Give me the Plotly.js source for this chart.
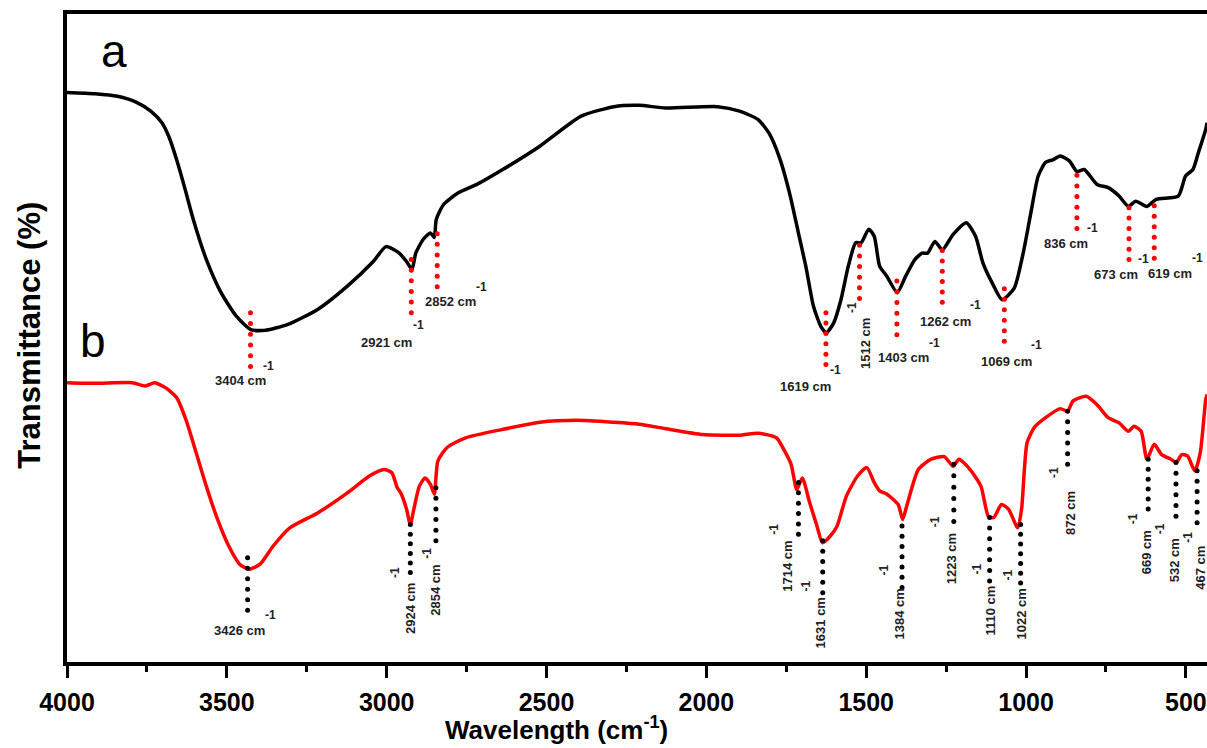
<!DOCTYPE html>
<html>
<head>
<meta charset="utf-8">
<script src="https://cdn.plot.ly/plotly-3.0.1.min.js"></script>
<style>html,body{margin:0;padding:0;background:#fff;}#chart{width:1207px;height:748px;}</style>
</head>
<body>
<div id="chart"></div>
<script>
// ---- Spectrum a (black) ----
const waveA = [4000, 3912, 3842, 3784, 3738, 3703, 3680, 3657, 3633, 3605, 3564, 3518, 3471, 3425, 3378, 3309, 3216, 3123, 3042, 3002, 2961, 2938, 2921, 2909, 2886, 2863, 2851, 2845, 2822, 2776, 2718, 2637, 2521, 2393, 2289, 2210,
  2127, 1965, 1896, 1838, 1804, 1769, 1740, 1712, 1689, 1665, 1642, 1625, 1602, 1579, 1556, 1533, 1516, 1492, 1475, 1458, 1435, 1403, 1377, 1348, 1325, 1308, 1285, 1262, 1228, 1187, 1158, 1135, 1106, 1075, 1037, 1009, 985, 962, 939, 916, 893, 864, 841, 818, 778, 743, 709, 680, 657, 622, 593, 524, 501, 478, 461, 438, 434];
const transA = [87.9, 87.7, 87.3, 86.4, 85.0, 83.2, 80.9, 77.5, 73.4, 68.3, 62.1, 57.0, 53.4, 51.3, 51.2, 52.1, 54.4, 58.0, 61.8, 64.1, 63.1, 61.8, 60.6, 63.1, 65.2, 66.2, 65.5, 68.3, 70.6, 72.4, 73.7, 76.0, 79.6, 84.2, 85.7, 85.9,
  85.5, 85.7, 85.0, 83.7, 81.6, 77.5, 72.4, 66.2, 61.1, 54.9, 51.8, 50.8, 52.3, 55.9, 61.1, 64.7, 64.7, 66.8, 65.7, 61.1, 59.5, 57.0, 59.5, 62.1, 63.1, 63.1, 64.9, 63.6, 66.0, 67.8, 65.7, 61.6, 58.5, 55.9, 57.7, 63.1, 69.3, 75.0, 77.1, 77.5, 78.1, 77.3, 75.7, 76.0, 73.7, 73.2, 71.9, 70.3, 71.1, 70.3, 71.4, 71.9, 75.0, 76.0, 78.6, 82.2, 83.2];

// ---- Spectrum b (red) ----
const waveB = [4000, 3912, 3796, 3755, 3726, 3691, 3657, 3628, 3599, 3564, 3529, 3494, 3460, 3431, 3396, 3355, 3303, 3216, 3123, 3054, 3008, 2984, 2967, 2956, 2938, 2926, 2915, 2898, 2880, 2863, 2851, 2840, 2811, 2753, 2637, 2521, 2405, 2289, 2210,
  2127, 2011, 1896, 1838, 1781, 1758, 1735, 1717, 1700, 1677, 1654, 1637, 1613, 1591, 1562, 1527, 1498, 1475, 1458, 1435, 1400, 1386, 1372, 1337, 1297, 1256, 1228, 1210, 1175, 1141, 1118, 1101, 1077, 1055, 1026, 1014, 997, 974, 939, 893, 870, 853, 812, 778, 743, 709, 680, 662, 640, 622, 599, 576, 547, 530, 513, 495, 472, 455, 438, 434];
const transB = [43.1, 43.0, 43.1, 42.6, 43.1, 42.3, 40.8, 37.4, 32.8, 27.1, 22.0, 17.9, 15.1, 14.3, 15.1, 17.9, 20.7, 23.0, 26.1, 28.7, 29.7, 29.2, 26.9, 26.1, 23.6, 21.2, 23.6, 27.1, 28.4, 27.4, 25.9, 31.0, 33.1, 34.6, 35.9, 37.0, 37.3, 37.0, 36.7,
  36.0, 35.1, 35.0, 35.3, 34.6, 32.8, 30.5, 26.6, 28.4, 24.6, 21.0, 18.4, 19.4, 21.0, 25.6, 28.7, 30.0, 27.7, 26.4, 25.9, 24.3, 22.0, 24.3, 29.7, 31.3, 31.7, 30.2, 31.3, 29.7, 27.1, 22.5, 22.3, 24.3, 23.6, 20.7, 23.6, 33.8, 36.2, 37.7, 39.1, 38.7, 40.3, 41.0, 39.7, 37.7, 36.9, 35.6, 36.4, 35.6, 31.3, 33.6, 32.0, 31.3, 30.8, 32.0, 31.8, 29.5, 32.3, 40.5, 41.3];

// ---- Peak markers a ----
const peakAx = [3426, 2923, 2842, 1626, 1521, 1404, 1262, 1068, 841, 678, 599];
const peakAlabel = ['3404', '2921', '2852', '1619', '1512', '1403', '1262', '1069', '836', '673', '619'];
const peakAtop = [53.9, 62.1, 66.1, 53.9, 64.3, 58.8, 63.5, 57.6, 75.1, 70.1, 70.4];
const peakAbot = [45.6, 53.9, 57.9, 45.9, 56.1, 50.5, 55.5, 49.5, 66.9, 62.1, 62.3];

// ---- Peak markers b ----
const peakBx = [3435, 2926, 2846, 1712, 1636, 1388, 1226, 1114, 1017, 870, 618, 531, 465];
const peakBlabel = ['3426', '2924', '2854', '1714', '1631', '1384', '1223', '1110', '1022', '872', '669', '532', '467'];
const peakBtop = [16.1, 21.2, 26.9, 27.7, 18.7, 21.0, 30.5, 22.3, 21.2, 38.7, 31.3, 30.8, 29.5];
const peakBbot = [8.0, 13.8, 18.7, 19.7, 10.7, 11.5, 21.7, 12.5, 12.2, 30.5, 23.6, 22.5, 21.5];

// ---- label placement (pixel offsets from the lowest dot; styling only) ----
const layA = [
  {rot:false, l:[-10,14], s:[18,-1]},
  {rot:false, l:[-25,30], s:[7,12]},
  {rot:false, l:[13,15], s:[44,0]},
  {rot:false, l:[-20,22], s:[10,5]},
  {rot:true,  l:[6,45], s:[-7,9]},
  {rot:false, l:[7,23], s:[38,8]},
  {rot:false, l:[3,19], s:[33,3]},
  {rot:false, l:[2,20], s:[32,4]},
  {rot:false, l:[-11,15], s:[16,0]},
  {rot:false, l:[-13,15], s:[14,-1]},
  {rot:false, l:[16,15], s:[43,0]}
];
const layB = [
  {rot:false, l:[-8,20], s:[23,5]},
  {rot:true, l:[0,36], s:[-16,0]},
  {rot:true, l:[0,49], s:[-9,12]},
  {rot:true, l:[-11,32], s:[-24,-5]},
  {rot:true, l:[-2,30], s:[-17,-7]},
  {rot:true, l:[-3,27], s:[-18,-17]},
  {rot:true, l:[-2,37], s:[-18,0]},
  {rot:true, l:[0,30], s:[-13,-12]},
  {rot:true, l:[1,31], s:[-13,-8]},
  {rot:true, l:[3,49], s:[-13,8]},
  {rot:true, l:[-2,43], s:[-15,10]},
  {rot:true, l:[-2,44], s:[-16,12]},
  {rot:true, l:[4,45], s:[-9,15]}
];

const FONT = 'Liberation Sans, Arial, sans-serif';

function dotsFor(xs, tops, bots) {
  const dx = [], dy = [];
  xs.forEach((x, i) => {
    const n = Math.round((tops[i] - bots[i]) / 1.62) + 1;
    for (let k = 0; k < n; k++) {
      dx.push(x);
      dy.push(tops[i] - (tops[i] - bots[i]) * k / (n - 1));
    }
  });
  return {dx, dy};
}
const dA = dotsFor(peakAx, peakAtop, peakAbot);
const dB = dotsFor(peakBx, peakBtop, peakBbot);

const traces = [
  {x: waveA, y: transA, mode: 'lines', line: {color: '#000000', width: 3.5, shape: 'spline', smoothing: 0.6}, hoverinfo: 'skip'},
  {x: waveB, y: transB, mode: 'lines', line: {color: '#ff0000', width: 3.5, shape: 'spline', smoothing: 0.6}, hoverinfo: 'skip'},
  {x: dA.dx, y: dA.dy, mode: 'markers', marker: {color: '#ff0000', size: 5}, hoverinfo: 'skip'},
  {x: dB.dx, y: dB.dy, mode: 'markers', marker: {color: '#000000', size: 5}, hoverinfo: 'skip'}
];

const annotations = [];
function addLabels(xs, bots, labels, lay) {
  xs.forEach((x, i) => {
    const L = lay[i];
    annotations.push({x: x, y: bots[i], xref: 'x', yref: 'y', text: labels[i] + ' cm', showarrow: false,
      xanchor: 'center', yanchor: 'middle', xshift: L.l[0], yshift: -L.l[1], textangle: L.rot ? -90 : 0,
      font: {family: FONT, size: 13, color: '#222', weight: 'bold'}});
    annotations.push({x: x, y: bots[i], xref: 'x', yref: 'y', text: '-1', showarrow: false,
      xanchor: 'center', yanchor: 'middle', xshift: L.s[0], yshift: -L.s[1], textangle: L.rot ? -90 : 0,
      font: {family: FONT, size: 12, color: '#222', weight: 'bold'}});
  });
}
addLabels(peakAx, peakAbot, peakAlabel, layA);
addLabels(peakBx, peakBbot, peakBlabel, layB);

annotations.push({xref: 'paper', yref: 'paper', x: 0.0412, y: 0.943, text: 'a', showarrow: false, xanchor: 'center', yanchor: 'middle',
  font: {family: FONT, size: 46, color: '#000'}});
annotations.push({xref: 'paper', yref: 'paper', x: 0.0228, y: 0.495, text: 'b', showarrow: false, xanchor: 'center', yanchor: 'middle',
  font: {family: FONT, size: 46, color: '#000'}});
annotations.push({xref: 'paper', yref: 'paper', x: 0.429, y: -0.103, text: 'Wavelength (cm<sup>-1</sup>)', showarrow: false,
  xanchor: 'center', yanchor: 'middle', font: {family: FONT, size: 26, color: '#000', weight: 'bold'}});
annotations.push({xref: 'paper', yref: 'paper', x: -0.0325, y: 0.505, text: 'Transmittance (%)', showarrow: false, textangle: -90,
  xanchor: 'center', yanchor: 'middle', font: {family: FONT, size: 31, color: '#000', weight: 'bold'}});

const layout = {
  width: 1207, height: 748,
  margin: {l: 67, r: 0, t: 14, b: 86},
  paper_bgcolor: '#ffffff', plot_bgcolor: '#ffffff',
  showlegend: false,
  xaxis: {range: [4000, 434], tick0: 0, dtick: 500, ticks: 'outside', ticklen: 12, tickwidth: 3, tickcolor: '#000',
    showline: true, linewidth: 4, linecolor: '#000', mirror: true, showgrid: false, zeroline: false,
    tickfont: {family: FONT, size: 25, color: '#000', weight: 'bold'}, ticklabelstandoff: 3,
    minor: {tick0: 0, dtick: 250, ticks: 'outside', ticklen: 6, tickwidth: 3, tickcolor: '#000', showgrid: false}},
  yaxis: {range: [0, 100], showline: true, linewidth: 4, linecolor: '#000', showticklabels: false, ticks: '',
    showgrid: false, zeroline: false},
  annotations: annotations
};

Plotly.newPlot('chart', traces, layout, {displayModeBar: false, staticPlot: true});
</script>
</body>
</html>
